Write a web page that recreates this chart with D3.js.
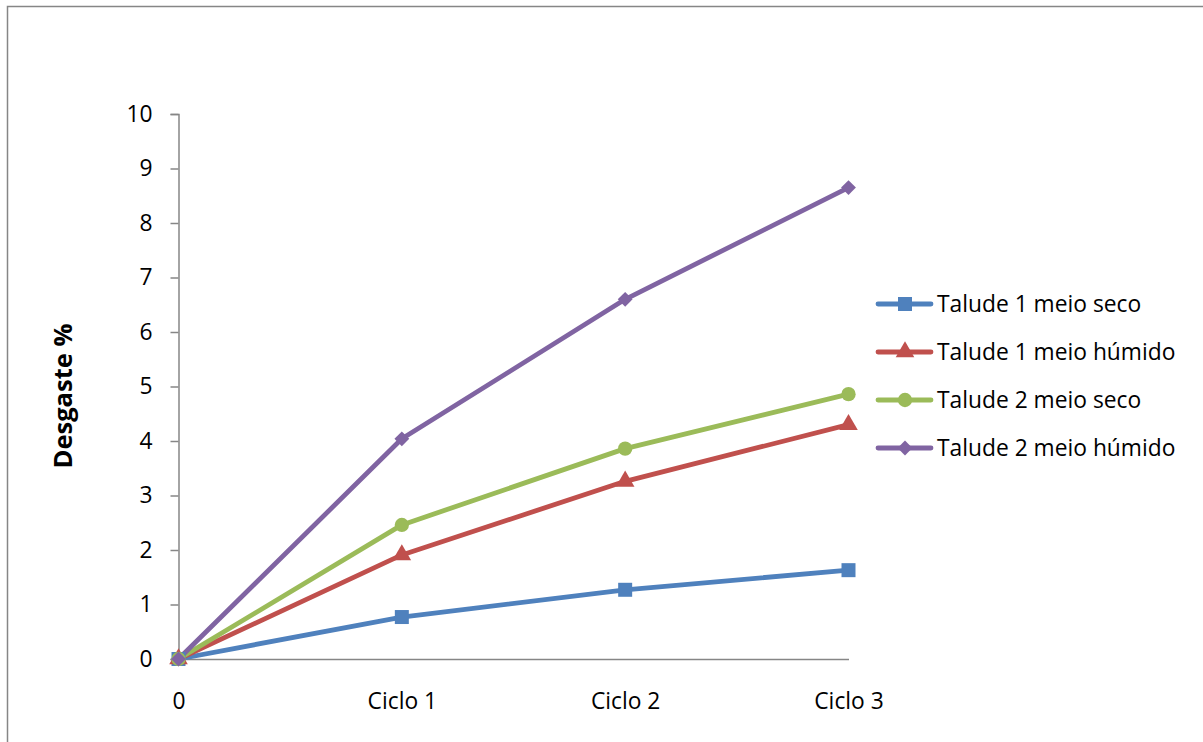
<!DOCTYPE html>
<html>
<head>
<meta charset="utf-8">
<script src="https://cdn.jsdelivr.net/npm/d3@7"></script>
<style>
  html, body { margin: 0; padding: 0; background: #fff; }
  svg { display: block; }
  text { font-family: "Open Sans", Lato, sans-serif; fill: #000; }
</style>
</head>
<body>
<svg id="chart" width="1203" height="742"></svg>
<script>
// Categories along the x axis
const categories = ["0", "Ciclo 1", "Ciclo 2", "Ciclo 3"];

// Wear (%) per slope and medium
const talude1Seco   = [0, 0.77, 1.27, 1.63];
const talude1Humido = [0, 1.91, 3.26, 4.30];
const talude2Seco   = [0, 2.46, 3.86, 4.86];
const talude2Humido = [0, 4.04, 6.60, 8.65];

const seriesNames = ["Talude 1 meio seco", "Talude 1 meio húmido", "Talude 2 meio seco", "Talude 2 meio húmido"];
const yTicks = [0, 1, 2, 3, 4, 5, 6, 7, 8, 9, 10];
const yTitle = "Desgaste %";

const series = [
  { name: seriesNames[0], values: talude1Seco,   color: "#4F81BD", marker: "square" },
  { name: seriesNames[1], values: talude1Humido, color: "#C0504D", marker: "triangle" },
  { name: seriesNames[2], values: talude2Seco,   color: "#9BBB59", marker: "circle" },
  { name: seriesNames[3], values: talude2Humido, color: "#8064A2", marker: "diamond" }
];

const FONT = "'Open Sans', Lato, sans-serif";
const FS = 22.8;

const svg = d3.select("#chart");

// Chart frame
svg.append("rect")
  .attr("x", 7.5).attr("y", 6.5)
  .attr("width", 1203).attr("height", 760)
  .attr("fill", "#fff")
  .attr("stroke", "#868686").attr("stroke-width", 1.5);

const x = d3.scalePoint().domain(categories).range([178.5, 848.5]);
const y = d3.scaleLinear().domain([0, 10]).range([659, 114]);

// Y axis
const yAxis = svg.append("g")
  .attr("transform", "translate(178.5,0)")
  .call(d3.axisLeft(y).tickValues(yTicks).tickSize(8).tickPadding(18).tickFormat(d3.format("d")));
yAxis.select(".domain").attr("stroke", "#868686").attr("stroke-width", 1.5);
yAxis.selectAll(".tick line").attr("stroke", "#868686").attr("stroke-width", 1.5);
yAxis.selectAll(".tick text").attr("font-size", FS).attr("font-family", FONT).attr("fill", "#000");

// X axis
const xAxis = svg.append("g")
  .attr("transform", "translate(0,659)")
  .call(d3.axisBottom(x).tickSize(0).tickPadding(34));
xAxis.select(".domain").attr("stroke", "#868686").attr("stroke-width", 1.5);
xAxis.selectAll(".tick text").attr("font-size", FS).attr("font-family", FONT).attr("fill", "#000");

// Y axis title
svg.append("text")
  .attr("transform", "translate(72,396) rotate(-90)")
  .attr("text-anchor", "middle")
  .attr("font-size", 25.5).attr("font-weight", "bold")
  .text(yTitle);

// Square rotated by 45 degrees, as used for the fourth series
const diamondSquare = {
  draw(ctx, size) {
    const r = Math.sqrt(size / 2);
    ctx.moveTo(0, -r); ctx.lineTo(r, 0); ctx.lineTo(0, r); ctx.lineTo(-r, 0); ctx.closePath();
  }
};

const symbolFor = {
  square:   d3.symbol().type(d3.symbolSquare).size(196),
  triangle: d3.symbol().type(d3.symbolTriangle).size(150),
  circle:   d3.symbol().type(d3.symbolCircle).size(160),
  diamond:  d3.symbol().type(diamondSquare).size(110)
};

const line = d3.line()
  .x((d, i) => x(categories[i]))
  .y(d => y(d));

const plot = svg.append("g");
series.forEach(s => {
  plot.append("path")
    .datum(s.values)
    .attr("d", line)
    .attr("fill", "none")
    .attr("stroke", s.color)
    .attr("stroke-width", 4.8)
    .attr("stroke-linejoin", "round")
    .attr("stroke-linecap", "round");
});
series.forEach(s => {
  plot.selectAll(null)
    .data(s.values)
    .join("path")
    .attr("transform", (d, i) => `translate(${x(categories[i])},${y(d)})`)
    .attr("d", symbolFor[s.marker])
    .attr("fill", s.color);
});

// Legend
const legend = svg.append("g").attr("transform", "translate(877,304)");
series.forEach((s, i) => {
  const row = legend.append("g").attr("transform", `translate(0,${i * 48})`);
  row.append("line")
    .attr("x1", 1).attr("x2", 54).attr("y1", 0).attr("y2", 0)
    .attr("stroke", s.color).attr("stroke-width", 4.8).attr("stroke-linecap", "round");
  row.append("path")
    .attr("transform", "translate(28,0)")
    .attr("d", symbolFor[s.marker])
    .attr("fill", s.color);
  row.append("text")
    .attr("x", 60).attr("y", 0).attr("dy", "0.35em")
    .attr("font-size", FS).attr("font-family", FONT)
    .text(s.name);
});
</script>
</body>
</html>
